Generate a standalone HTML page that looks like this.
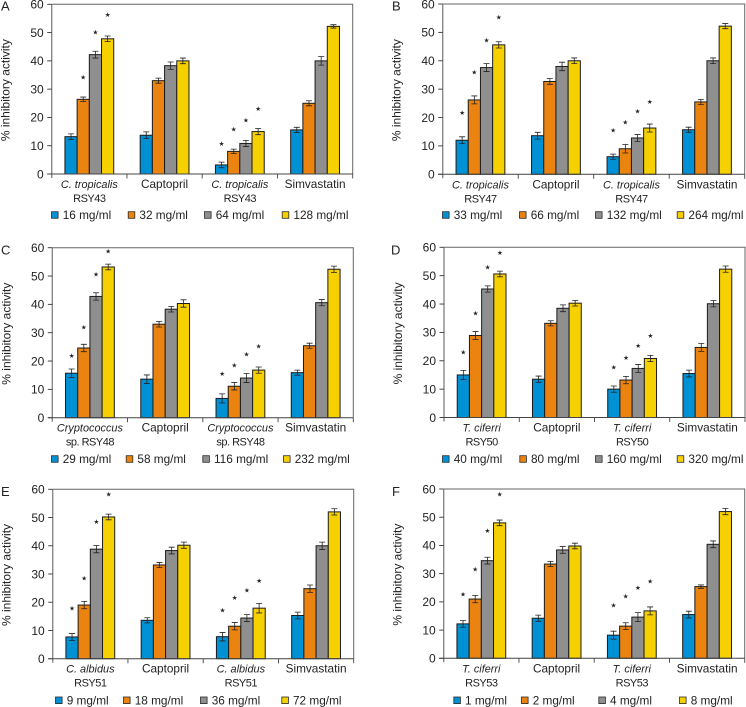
<!DOCTYPE html>
<html lang="en">
<head>
<meta charset="utf-8">
<title>Inhibitory activity charts</title>
<style>
html,body{margin:0;padding:0;background:#fff;}
body{width:746px;height:707px;overflow:hidden;}
svg{display:block;font-family:"Liberation Sans",sans-serif;fill:#222;}
</style>
</head>
<body>
<svg id="fig" width="746" height="707" viewBox="0 0 746 707" xmlns="http://www.w3.org/2000/svg"></svg>
<script>
// ---- shared chart data ----
const yTicks = [0, 10, 20, 30, 40, 50, 60];
const seriesColors = ['#0090d4', '#ea830f', '#8f8f8f', '#f7d000'];
const yMax = 60;

// ---- panel titles ----
const panelLetters = ['A', 'B', 'C', 'D', 'E', 'F'];

// ---- category labels ----
const catsA = [['C. tropicalis', 'RSY43'], ['Captopril', ''], ['C. tropicalis', 'RSY43'], ['Simvastatin', '']];
const catsB = [['C. tropicalis', 'RSY47'], ['Captopril', ''], ['C. tropicalis', 'RSY47'], ['Simvastatin', '']];
const catsC = [['Cryptococcus', 'sp. RSY48'], ['Captopril', ''], ['Cryptococcus', 'sp. RSY48'], ['Simvastatin', '']];
const catsD = [['T. ciferri', 'RSY50'], ['Captopril', ''], ['T. ciferri', 'RSY50'], ['Simvastatin', '']];
const catsE = [['C. albidus', 'RSY51'], ['Captopril', ''], ['C. albidus', 'RSY51'], ['Simvastatin', '']];
const catsF = [['T. ciferri', 'RSY53'], ['Captopril', ''], ['T. ciferri', 'RSY53'], ['Simvastatin', '']];

// ---- legend labels ----
const legendA = ['16 mg/ml', '32 mg/ml', '64 mg/ml', '128 mg/ml'];
const legendB = ['33 mg/ml', '66 mg/ml', '132 mg/ml', '264 mg/ml'];
const legendC = ['29 mg/ml', '58 mg/ml', '116 mg/ml', '232 mg/ml'];
const legendD = ['40 mg/ml', '80 mg/ml', '160 mg/ml', '320 mg/ml'];
const legendE = ['9 mg/ml', '18 mg/ml', '36 mg/ml', '72 mg/ml'];
const legendF = ['1 mg/ml', '2 mg/ml', '4 mg/ml', '8 mg/ml'];

// ---- bar values: one row per category, one value per concentration ----
const valuesA = [[13.2, 26.4, 42.2, 47.8], [13.7, 33, 38.3, 40], [3.2, 8, 10.8, 15], [15.6, 25, 40, 52.2]];
const valuesB = [[12, 26.2, 37.6, 45.6], [13.6, 32.7, 38, 40], [6.2, 9, 12.8, 16.3], [15.7, 25.5, 40, 52.2]];
const valuesC = [[15.7, 24.6, 42.8, 53.2], [13.6, 33, 38.3, 40.3], [6.8, 11.1, 14, 16.8], [15.9, 25.4, 40.6, 52.4]];
const valuesD = [[15, 28.9, 45.3, 50.6], [13.5, 33.2, 38.5, 40.3], [10, 13.2, 17.3, 20.8], [15.5, 24.7, 40.1, 52.3]];
const valuesE = [[7.7, 19, 38.8, 50.2], [13.6, 33.2, 38.3, 40.2], [7.8, 11.5, 14.4, 17.9], [15.3, 24.8, 40, 52]];
const valuesF = [[12.2, 21, 34.6, 48], [14.2, 33.4, 38.4, 39.8], [8.2, 11.4, 14.6, 16.8], [15.5, 25.4, 40.4, 52]];

// ---- error bar half-widths ----
const errorsA = [[1, 0.8, 1.2, 1], [1.2, 0.9, 1.3, 1], [1, 0.8, 1.1, 1.1], [0.9, 0.9, 1.5, 0.6]];
const errorsB = [[1.2, 1.4, 1.4, 1.1], [1.2, 1, 1.5, 1], [0.9, 1.5, 1.2, 1.4], [0.9, 0.9, 1, 0.9]];
const errorsC = [[1.5, 1.3, 1.3, 1], [1.5, 1, 1, 1.3], [1.6, 1.3, 1.6, 1.1], [0.9, 0.9, 1.1, 1.1]];
const errorsD = [[1.6, 1.4, 1.1, 1], [1.1, 0.9, 1.2, 1], [1.1, 1.3, 1.4, 1.1], [1.2, 1.4, 1.1, 1.1]];
const errorsE = [[1.2, 1.3, 1.3, 1], [0.9, 0.9, 1.2, 1.1], [1.5, 1.3, 1.2, 1.7], [1.2, 1.3, 1.3, 1.1]];
const errorsF = [[1.2, 1.3, 1.2, 1], [1.1, 0.9, 1.2, 1], [1.4, 1.2, 1.6, 1.4], [1.2, 0.6, 1.2, 1.1]];

// ---- significance star levels (value-axis units), null = no star ----
const starsA = [[null, 34.3, 50.1, 56.4], null, [10.8, 15.9, 19, 23], null];
const starsB = [[21.7, 35.9, 47.3, 55.3], null, [15.5, 18.4, 22.3, 25.5], null];
const starsC = [[21.9, 32, 50.6, 58.8], null, [15.5, 18.5, 22.4, 25.3], null];
const starsD = [[23, 36.7, 53, 58.1], null, [17.8, 21, 25.3, 28.8], null];
const starsE = [[17.8, 28.5, 48.5, 58.2], null, [17.1, 21.6, 24.2, 27.7], null];
const starsF = [[22.7, 31.6, 45.2, 58.1], null, [18.8, 22, 25.1, 27.3], null];

// ---- panel layout ----
const layoutBoxes = [
  {left: 51.7, top: 4.3, bottom: 174, width: 301, letterX: 1, letterY: 10.5, legendY: 215, legendX: [51, 127.7, 204, 281.7]},
  {left: 442.7, top: 4, bottom: 174.3, width: 302, letterX: 392, letterY: 10.5, legendY: 215, legendX: [442, 519, 595, 676.7]},
  {left: 52.3, top: 247.7, bottom: 417.7, width: 301, letterX: 1, letterY: 254.5, legendY: 459, legendX: [51, 125.7, 202.3, 283]},
  {left: 444, top: 247.3, bottom: 417.5, width: 301, letterX: 391, letterY: 254.5, legendY: 459, legendX: [442, 519.3, 595, 676.7]},
  {left: 52.7, top: 489.3, bottom: 658.7, width: 301, letterX: 1, letterY: 496, legendY: 700.3, legendX: [55, 123, 200, 281.3]},
  {left: 443.7, top: 489, bottom: 658.3, width: 301, letterX: 392, letterY: 496, legendY: 700.3, legendX: [453.3, 521, 598.3, 679]}
];

const allCats = [catsA, catsB, catsC, catsD, catsE, catsF];
const allLegends = [legendA, legendB, legendC, legendD, legendE, legendF];
const allValues = [valuesA, valuesB, valuesC, valuesD, valuesE, valuesF];
const allErrors = [errorsA, errorsB, errorsC, errorsD, errorsE, errorsF];
const allStars = [starsA, starsB, starsC, starsD, starsE, starsF];

const NS = 'http://www.w3.org/2000/svg';
const BAR_W = 12.2;
const root = document.getElementById('fig');

function make(tag, parent, props) {
  const el = document.createElementNS(NS, tag);
  for (const k in props) el.setAttribute(k, props[k]);
  parent.appendChild(el);
  return el;
}

panelLetters.forEach(function (letter, p) {
  const box = layoutBoxes[p];
  const yScale = function (v) { return box.bottom - (v / yMax) * (box.bottom - box.top); };
  const groupW = box.width / allCats[p].length;
  const groupX = function (g) { return box.left + groupW * (g + 0.5); };
  const barX = function (g, s) { return groupX(g) + (s - 2) * BAR_W; };

  const panel = make('g', root, {});
  
  

  const letterEl = make('text', panel, {x: box.letterX, y: box.letterY, 'font-size': 13});
  
  
  letterEl.textContent = letter;

  const titleX = box.left - 46;
  const titleY = (box.top + box.bottom) / 2 + 1;
  const yTitle = make('text', panel, {x: titleX, y: titleY, 'font-size': 12, 'text-anchor': 'middle', transform: 'rotate(-90 ' + titleX + ' ' + titleY + ')', 'dominant-baseline': 'central'});
  
  
  yTitle.textContent = '% inhibitory activity';

  const frame = make('path', panel, {
    d: 'M' + box.left + ' ' + box.top + 'H' + (box.left + box.width) + 'V' + box.bottom,
    fill: 'none', stroke: '#666', 'stroke-width': 1
  });
  
  

  const yAxis = make('line', panel, {x1: box.left, x2: box.left, y1: box.top, y2: box.bottom + 4, stroke: '#888', 'stroke-width': 1.4});
  
  

  yTicks.forEach(function (t) {
    const tick = make('line', panel, {x1: box.left - 4.5, x2: box.left, y1: yScale(t), y2: yScale(t), stroke: '#333', 'stroke-width': 0.9});
    
    
    const lab = make('text', panel, {x: box.left - 8, y: yScale(t) + 4.3, 'font-size': 12, 'text-anchor': 'end'});
    
    
    lab.textContent = t;
  });

  allValues[p].forEach(function (row, g) {
    row.forEach(function (v, s) {
      const x = barX(g, s);
      const bar = make('rect', panel, {x: x, y: yScale(v), width: BAR_W, height: box.bottom - yScale(v), fill: seriesColors[s], stroke: '#1c1c1c', 'stroke-width': 1});
      
      

      const err = allErrors[p][g][s];
      const cx = x + BAR_W / 2;
      const eb = make('path', panel, {
        d: 'M' + cx + ' ' + yScale(v + err) + 'V' + yScale(v - err) +
           'M' + (cx - 3) + ' ' + yScale(v + err) + 'H' + (cx + 3) +
           'M' + (cx - 3) + ' ' + yScale(v - err) + 'H' + (cx + 3),
        fill: 'none', stroke: '#222', 'stroke-width': 0.8
      });
      
      
    });

    const starRow = allStars[p][g];
    if (starRow) {
      starRow.forEach(function (level, s) {
        if (level === null) return;
        const star = make('text', panel, {x: barX(g, s) + BAR_W / 2, y: yScale(level) + 2.3, 'font-size': 6.5, 'text-anchor': 'middle', 'font-family': '"DejaVu Sans",sans-serif'});
        
        
        star.textContent = '★';
      });
    }
  });

  const xAxis = make('line', panel, {x1: box.left - 4.5, x2: box.left + box.width, y1: box.bottom, y2: box.bottom, stroke: '#444', 'stroke-width': 1});
  
  

  allCats[p].forEach(function (cat, g) {
    const tx = box.left + groupW * (g + 1);
    const sep = make('line', panel, {x1: tx, x2: tx, y1: box.bottom, y2: box.bottom + 4.5, stroke: '#444', 'stroke-width': 0.9});
    
    

    const isSample = cat[1] !== '';
    const l1 = make('text', panel, {x: groupX(g), y: box.bottom + 14, 'font-size': isSample ? 10.9 : 11.8, 'text-anchor': 'middle', 'font-style': isSample ? 'italic' : 'normal'});
    
    
    l1.textContent = cat[0];
    if (isSample) {
      const l2 = make('text', panel, {x: groupX(g), y: box.bottom + 28, 'font-size': 11, 'letter-spacing': -0.5, 'text-anchor': 'middle'});
      
      
      l2.textContent = cat[1];
    }
  });

  allLegends[p].forEach(function (label, s) {
    const lx = box.legendX[s];
    const sw = make('rect', panel, {x: lx + 0.5, y: box.legendY - 3.3, width: 6.6, height: 6.6, fill: seriesColors[s], stroke: '#2a2a2a', 'stroke-width': 0.8});
    
    
    const tx = make('text', panel, {x: lx + 11.7, y: box.legendY + 4.2, 'font-size': 11.8});
    
    
    tx.textContent = label;
  });
});
</script>
</body>
</html>
